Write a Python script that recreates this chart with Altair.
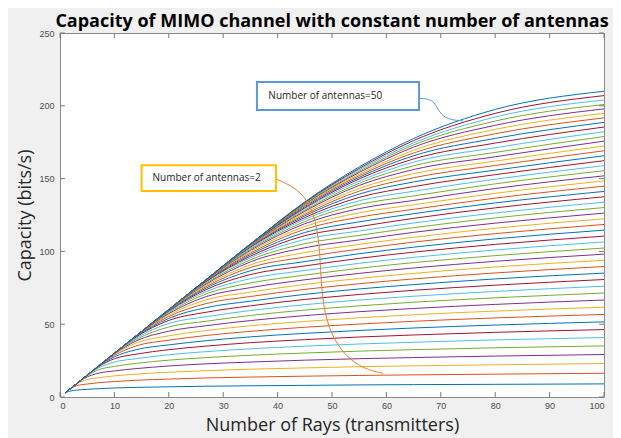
import altair as alt
import pandas as pd

# ---------------- data ----------------
rays = [1, 2, 3, 5, 7, 10, 14, 20, 27, 35, 45, 55, 65, 80, 100]
antennas = list(range(1, 51))
head = [3, 6, 9, 15, 21, 30, 42]
capacity = [
    [2.9, 4.2, 4.7, 5.3, 5.7, 6.2, 6.6, 7.0, 7.4, 7.7, 8.0, 8.3, 8.5, 8.7, 9.0],
    [3.0, 5.9, 7.7, 8.9, 9.8, 10.6, 11.5, 12.3, 13.1, 13.7, 14.3, 14.8, 15.2, 15.7, 16.3],
    [3, 6, 8.8, 12.0, 13.2, 14.5, 15.7, 17.0, 18.1, 19.1, 20.0, 20.8, 21.4, 22.1, 23.0],
    [3, 6, 9, 13.8, 16.3, 17.9, 19.5, 21.3, 22.8, 24.0, 25.3, 26.3, 27.1, 28.1, 29.2],
    [3, 6, 9, 14.7, 18.6, 21.0, 23.1, 25.3, 27.1, 28.7, 30.2, 31.5, 32.5, 33.8, 35.1],
    [3, 6, 9, 14.9, 19.8, 24.0, 26.3, 29.0, 31.2, 33.1, 34.9, 36.4, 37.6, 39.2, 40.8],
    [3, 6, 9, 15, 20.6, 26.3, 29.4, 32.5, 35.0, 37.3, 39.4, 41.2, 42.6, 44.4, 46.3],
    [3, 6, 9, 15, 20.9, 27.6, 32.5, 35.8, 38.7, 41.3, 43.7, 45.7, 47.4, 49.4, 51.6],
    [3, 6, 9, 15, 21, 28.6, 35.1, 39.0, 42.3, 45.1, 47.9, 50.1, 52.0, 54.3, 56.7],
    [3, 6, 9, 15, 21, 29.4, 37.1, 42.0, 45.7, 48.9, 51.9, 54.4, 56.5, 59.0, 61.7],
    [3, 6, 9, 15, 21, 29.7, 38.5, 45.2, 49.0, 52.5, 55.9, 58.6, 60.8, 63.6, 66.6],
    [3, 6, 9, 15, 21, 29.9, 39.5, 48.1, 52.1, 56.0, 59.7, 62.6, 65.1, 68.1, 71.4],
    [3, 6, 9, 15, 21, 30, 40.4, 50.5, 55.2, 59.4, 63.4, 66.6, 69.2, 72.5, 76.1],
    [3, 6, 9, 15, 21, 30, 41.2, 52.6, 58.3, 62.6, 67.0, 70.4, 73.3, 76.8, 80.7],
    [3, 6, 9, 15, 21, 30, 41.5, 54.0, 61.5, 65.8, 70.5, 74.2, 77.2, 81.1, 85.1],
    [3, 6, 9, 15, 21, 30, 41.8, 55.3, 64.3, 69.0, 73.9, 77.8, 81.1, 85.2, 89.6],
    [3, 6, 9, 15, 21, 30, 42, 56.3, 66.9, 72.0, 77.3, 81.4, 84.9, 89.3, 93.9],
    [3, 6, 9, 15, 21, 30, 42, 57.3, 69.1, 75.1, 80.5, 84.9, 88.6, 93.2, 98.1],
    [3, 6, 9, 15, 21, 30, 42, 58.1, 71.0, 78.3, 83.7, 88.4, 92.3, 97.1, 102.3],
    [3, 6, 9, 15, 21, 30, 42, 58.8, 72.6, 81.3, 86.9, 91.8, 95.9, 101.0, 106.5],
    head + [59.1, 74.0, 84.1, 90.0, 95.2, 99.5, 104.8, 110.5],
    head + [59.4, 75.1, 86.7, 93.0, 98.4, 102.9, 108.6, 114.6],
    head + [59.7, 76.1, 88.9, 96.1, 101.6, 106.4, 112.2, 118.5],
    head + [59.8, 77.0, 90.8, 99.2, 104.8, 109.7, 115.9, 122.4],
    head + [60, 77.9, 92.8, 102.5, 107.9, 113.1, 119.4, 126.3],
    head + [60, 78.6, 94.2, 105.3, 111.0, 116.3, 123.0, 130.1],
    head + [60, 79.4, 95.6, 108.2, 114.0, 119.5, 126.4, 133.8],
    head + [60, 79.7, 96.7, 110.8, 117.0, 122.7, 129.9, 137.5],
    head + [60, 80.1, 97.8, 113.0, 120.3, 125.9, 133.3, 141.2],
    head + [60, 80.4, 98.8, 115.2, 123.5, 128.9, 136.6, 144.8],
    head + [60, 80.6, 99.8, 117.1, 126.5, 132.0, 139.9, 148.4],
    head + [60, 80.8, 100.7, 119.0, 129.4, 135.0, 143.2, 151.9],
    head + [60, 80.9, 101.4, 120.5, 132.2, 138.1, 146.4, 155.4],
    head + [60, 81, 102.1, 122.0, 134.8, 141.3, 149.6, 158.9],
    head + [60, 81, 102.9, 123.2, 137.1, 144.5, 152.7, 162.3],
    head + [60, 81, 103.2, 124.4, 139.4, 147.7, 155.8, 165.7],
    head + [60, 81, 103.6, 125.4, 141.4, 150.6, 159.0, 169.1],
    head + [60, 81, 103.9, 126.5, 143.3, 153.4, 162.0, 172.4],
    head + [60, 81, 104.2, 127.6, 145.3, 156.2, 165.0, 175.7],
    head + [60, 81, 104.4, 128.4, 146.8, 158.8, 168.0, 178.9],
    head + [60, 81, 104.5, 129.4, 148.3, 161.3, 171.2, 182.2],
    head + [60, 81, 104.7, 130.0, 149.8, 163.5, 174.4, 185.4],
    head + [60, 81, 104.9, 130.8, 150.9, 165.7, 177.6, 188.6],
    head + [60, 81, 105, 131.6, 152.0, 167.6, 180.8, 191.7],
    head + [60, 81, 105, 132.3, 153.0, 169.5, 183.8, 194.8],
    head + [60, 81, 105, 132.6, 154.2, 171.6, 186.6, 197.9],
    head + [60, 81, 105, 132.9, 155.1, 173.1, 189.5, 200.9],
    head + [60, 81, 105, 133.3, 156.1, 174.5, 192.3, 204.0],
    head + [60, 81, 105, 133.6, 157.0, 176.1, 194.8, 207.0],
    head + [60, 81, 105, 134.0, 158.0, 177.5, 197.5, 210.0],
]

x_ticks = [0, 10, 20, 30, 40, 50, 60, 70, 80, 90, 100]
y_ticks = [0, 50, 100, 150, 200, 250]

# annotation boxes (data units)
box_labels = ["Number of antennas=50", "Number of antennas=2"]
box_x = [36.2, 15.0]
box_x2 = [66.0, 39.7]
box_y = [197.1, 141.5]
box_y2 = [216.3, 159.1]
box_tx = [38.3, 17.0]
box_ty = [206.9, 150.3]
box_colors = ["#5B9BD5", "#FFC000"]

# connector paths (data units)
conn50_x = [66.0, 68.4, 69.2, 70.1, 71.6, 74.1]
conn50_y = [205.1, 204.6, 199.5, 193.7, 190.4, 189.6]
conn2_x = [39.7, 43.6, 46.3, 47.6, 47.9, 48.3, 49.8, 52.6, 55.8, 59.4]
conn2_y = [149.7, 143.5, 131.0, 110.0, 87.0, 63.0, 42.5, 27.5, 19.4, 16.2]

matlab_colors = ["#0072BD", "#D95319", "#EDB120", "#7E2F8E", "#77AC30", "#4DBEEE", "#A2142F"]

X_TITLE = "Number of Rays (transmitters)"
Y_TITLE = "Capacity (bits/s)"

# ---------------- build tables ----------------
rows = []
for n, row in zip(antennas, capacity):
    for L, c in zip(rays, row):
        rows.append({"antennas": n, "rays": L, "capacity": c})
df = pd.DataFrame(rows)

W, H = 544, 364
xscale = alt.Scale(domain=[0, 100], nice=False, zero=False)
yscale = alt.Scale(domain=[0, 250], nice=False, zero=False)

label_font = "Liberation Sans"
title_font = "Open Sans"


def X(field):
    return alt.X(field, scale=xscale, title=X_TITLE)


def Y(field):
    return alt.Y(field, scale=yscale, title=Y_TITLE)


lines = alt.Chart(df).mark_line(strokeWidth=1, interpolate="monotone").encode(
    x=alt.X("rays:Q", scale=xscale, title=X_TITLE,
            axis=alt.Axis(values=x_ticks, grid=False,
                          ticks=False, tickSize=0, domain=False, labelPadding=4,
                          labelFont=label_font, labelFontSize=9, labelColor="#4D4D4D",
                          titleFont=title_font, titleFontSize=18, titleFontWeight="normal",
                          titleColor="#262626", titlePadding=6, titleBaseline="top")),
    y=alt.Y("capacity:Q", scale=yscale, title=Y_TITLE,
            axis=alt.Axis(values=y_ticks, grid=False,
                          ticks=False, tickSize=0, domain=False, labelPadding=6,
                          labelFont=label_font, labelFontSize=9, labelColor="#4D4D4D",
                          titleFont=title_font, titleFontSize=18, titleFontWeight="normal",
                          titleColor="#262626", titlePadding=4)),
    color=alt.Color("antennas:N",
                    scale=alt.Scale(domain=antennas,
                                    range=[matlab_colors[i % 7] for i in range(len(antennas))]),
                    legend=None),
    detail="antennas:N",
)

xt = pd.DataFrame({"v": x_ticks})
yt = pd.DataFrame({"v": y_ticks})
tick_color = "#7A7A7A"
bottom_ticks = alt.Chart(xt).mark_rule(color=tick_color, strokeWidth=1).encode(
    x=X("v:Q"), y=alt.value(H - 5), y2=alt.value(H))
top_ticks = alt.Chart(xt).mark_rule(color=tick_color, strokeWidth=1).encode(
    x=X("v:Q"), y=alt.value(0), y2=alt.value(5))
left_ticks = alt.Chart(yt).mark_rule(color=tick_color, strokeWidth=1).encode(
    y=Y("v:Q"), x=alt.value(0), x2=alt.value(5))
right_ticks = alt.Chart(yt).mark_rule(color=tick_color, strokeWidth=1).encode(
    y=Y("v:Q"), x=alt.value(W - 5), x2=alt.value(W))

boxes_df = pd.DataFrame({"x": box_x, "x2": box_x2, "y": box_y, "y2": box_y2,
                         "c": box_colors, "label": box_labels, "tx": box_tx, "ty": box_ty})
boxes = alt.Chart(boxes_df).mark_rect(fill="white", strokeWidth=2).encode(
    x=X("x:Q"), x2="x2:Q",
    y=Y("y:Q"), y2="y2:Q",
    stroke=alt.Stroke("c:N", scale=None))
box_text = alt.Chart(boxes_df).mark_text(align="left", baseline="middle", fontSize=10,
                                         font="Open Sans", color="#262626").encode(
    x=X("tx:Q"), y=Y("ty:Q"), text="label:N")

c50 = pd.DataFrame({"x": conn50_x, "y": conn50_y, "o": list(range(len(conn50_x)))})
c2 = pd.DataFrame({"x": conn2_x, "y": conn2_y, "o": list(range(len(conn2_x)))})
conn50 = alt.Chart(c50).mark_line(color="#5B9BD5", strokeWidth=1, interpolate="basis").encode(
    x=X("x:Q"), y=Y("y:Q"), order="o:Q")
conn2 = alt.Chart(c2).mark_line(color="#ED7D31", strokeWidth=1, interpolate="basis").encode(
    x=X("x:Q"), y=Y("y:Q"), order="o:Q")

chart = alt.layer(
    lines, bottom_ticks, top_ticks, left_ticks, right_ticks, conn50, conn2, boxes, box_text
).properties(
    width=W, height=H,
    title=alt.TitleParams(text="Capacity of MIMO channel with constant number of antennas",
                          font=title_font, fontSize=18, fontWeight="bold", color="#000000",
                          anchor="middle", offset=-2),
    autosize=alt.AutoSizeParams(type="none"),
    padding={"left": 52, "top": 25, "right": 9, "bottom": 41},
).configure(background="#F0F0F0").configure_view(fill="white", stroke="#8A8A8A", strokeWidth=1)

chart.save("out.html", embed_options={"renderer": "svg", "actions": False})
